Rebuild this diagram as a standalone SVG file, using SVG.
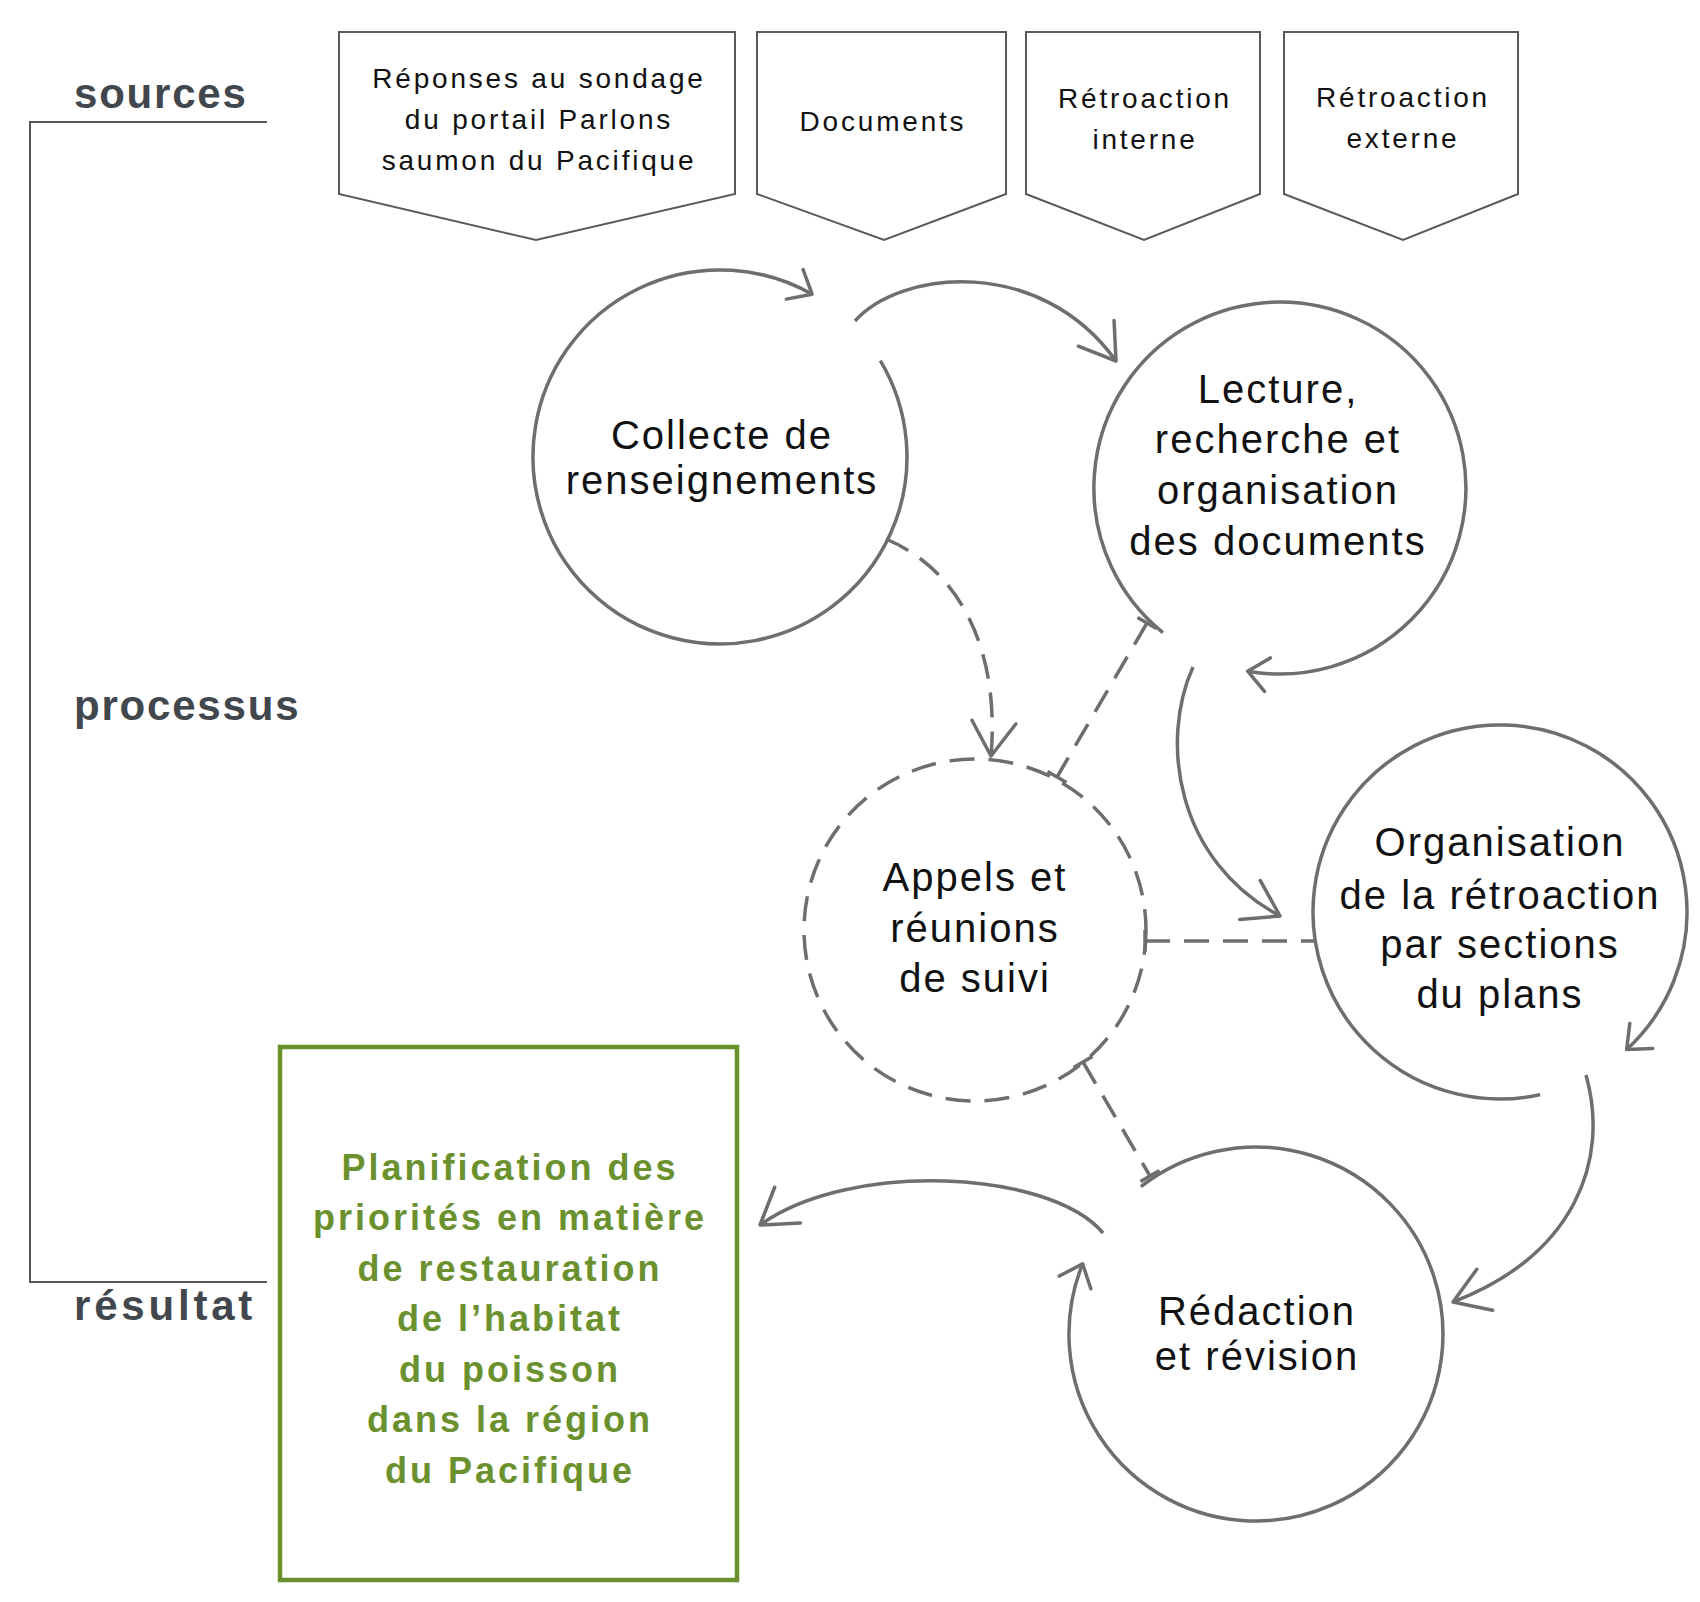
<svg xmlns="http://www.w3.org/2000/svg" width="1700" height="1602" viewBox="0 0 1700 1602">
<style>
text{font-family:"Liberation Sans",Arial,sans-serif}
.lbl{font-weight:bold;font-size:42px;fill:#42464d;letter-spacing:1.8px}
.src{font-size:28px;fill:#111;letter-spacing:2.8px;text-anchor:middle}
.pent{fill:#fff;stroke:#5a5a5a;stroke-width:2}
.proc{font-size:40px;fill:#111;letter-spacing:2px;text-anchor:middle}
.ring{fill:none;stroke:#6e6e6e;stroke-width:3.5}
.dash{stroke-dasharray:25 14}
.res{font-weight:bold;font-size:36px;fill:#6b912f;letter-spacing:3px;text-anchor:middle}
.box{fill:#fff;stroke:#6a902c;stroke-width:4.5}
.conn{fill:none;stroke:#6e6e6e;stroke-width:3.5}
.bracket{fill:none;stroke:#555;stroke-width:2}
</style>
<defs>
<marker id="ah" markerWidth="1" markerHeight="1" orient="auto" markerUnits="userSpaceOnUse" overflow="visible">
<path d="M-34,-22 L0,0 L-34,22" fill="none" stroke="#6e6e6e" stroke-width="3.5" stroke-linecap="round" stroke-linejoin="round"/>
</marker>
<marker id="ahs" markerWidth="1" markerHeight="1" orient="auto" markerUnits="userSpaceOnUse" overflow="visible">
<path d="M-20,-17 L0,0 L-20,17" fill="none" stroke="#6e6e6e" stroke-width="3.5" stroke-linecap="round" stroke-linejoin="round"/>
</marker>
<marker id="tb" markerWidth="1" markerHeight="1" orient="auto" markerUnits="userSpaceOnUse" overflow="visible">
<path d="M0,-11 L0,11" fill="none" stroke="#6e6e6e" stroke-width="3.5"/>
</marker>
</defs>
<rect width="1700" height="1602" fill="#fff"/>

<g id="labels">
<path class="bracket" d="M267,122 L30,122 L30,1282 L267,1282"/>
<text class="lbl" x="74" y="108">sources</text>
<text class="lbl" x="74" y="720">processus</text>
<text class="lbl" x="74" y="1320" style="letter-spacing:3.8px">résultat</text>
</g>

<g id="src1">
<polygon class="pent" points="339,32 735,32 735,194 536,240 339,194"/>
<text class="src" x="539" y="88">Réponses au sondage</text>
<text class="src" x="539" y="129">du portail Parlons</text>
<text class="src" x="539" y="170">saumon du Pacifique</text>
</g>
<g id="src2">
<polygon class="pent" points="757,32 1006,32 1006,194 884,240 757,194"/>
<text class="src" x="883" y="131">Documents</text>
</g>
<g id="src3">
<polygon class="pent" points="1026,32 1260,32 1260,194 1144,240 1026,194"/>
<text class="src" x="1145" y="108">Rétroaction</text>
<text class="src" x="1145" y="149">interne</text>
</g>
<g id="src4">
<polygon class="pent" points="1284,32 1518,32 1518,194 1403,240 1284,194"/>
<text class="src" x="1403" y="107">Rétroaction</text>
<text class="src" x="1403" y="148">externe</text>
</g>

<g id="collecte">
<path class="ring" d="M880.3,360.7 A187,187 0 1,1 812.1,294.2" marker-end="url(#ahs)"/>
<text class="proc" x="722" y="449">Collecte de</text>
<text class="proc" x="722" y="494">renseignements</text>
</g>
<g id="lecture">
<path class="ring" d="M1162.9,632.6 A186,186 0 1,1 1247.7,671.2" marker-end="url(#ahs)"/>
<text class="proc" x="1278" y="403">Lecture,</text>
<text class="proc" x="1278" y="453">recherche et</text>
<text class="proc" x="1278" y="504">organisation</text>
<text class="proc" x="1278" y="555">des documents</text>
</g>
<g id="organisation">
<path class="ring" d="M1540.2,1094.6 A187,187 0 1,1 1626.6,1049.6" marker-end="url(#ahs)"/>
<text class="proc" x="1500" y="856">Organisation</text>
<text class="proc" x="1500" y="909">de la rétroaction</text>
<text class="proc" x="1500" y="958">par sections</text>
<text class="proc" x="1500" y="1008">du plans</text>
</g>
<g id="appels">
<circle class="ring dash" cx="975" cy="930" r="171"/>
<text class="proc" x="975" y="891">Appels et</text>
<text class="proc" x="975" y="942">réunions</text>
<text class="proc" x="975" y="992">de suivi</text>
</g>
<g id="redaction">
<path class="ring" d="M1140.9,1186.6 A187,187 0 1,1 1082.6,1263.9" marker-end="url(#ahs)"/>
<text class="proc" x="1257" y="1325">Rédaction</text>
<text class="proc" x="1257" y="1370">et révision</text>
</g>
<g id="resultat">
<rect class="box" x="280" y="1047" width="457" height="533"/>
<text class="res" x="510" y="1180">Planification des</text>
<text class="res" x="510" y="1230">priorités en matière</text>
<text class="res" x="510" y="1281">de restauration</text>
<text class="res" x="510" y="1331">de l’habitat</text>
<text class="res" x="510" y="1382">du poisson</text>
<text class="res" x="510" y="1432">dans la région</text>
<text class="res" x="510" y="1483">du Pacifique</text>
</g>

<g id="connectors">
<path class="conn" d="M855,321 C900,270 1040,255 1116,361" marker-end="url(#ah)"/>
<path class="conn dash" d="M886,539 C960,570 1000,650 991,756" marker-end="url(#ah)"/>
<path class="conn dash" d="M1147,623 L1057,777" marker-start="url(#tb)" marker-end="url(#tb)"/>
<path class="conn" d="M1193,667 C1160,740 1175,860 1280,916" marker-end="url(#ah)"/>
<path class="conn dash" d="M1145,941 L1314,941" marker-start="url(#tb)"/>
<path class="conn" d="M1586,1075 C1610,1160 1575,1255 1453,1302" marker-end="url(#ah)"/>
<path class="conn dash" d="M1083,1062 L1150,1176" marker-start="url(#tb)" marker-end="url(#tb)"/>
<path class="conn" d="M1103,1233 C1050,1170 850,1160 760,1225" marker-end="url(#ah)"/>
</g>
</svg>
